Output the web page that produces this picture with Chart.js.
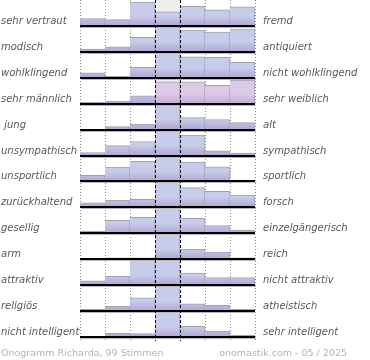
<!DOCTYPE html>
<html>
<head>
<meta charset="utf-8">
<script src="https://cdn.jsdelivr.net/npm/chart.js@4"></script>
<style>
  html, body { margin: 0; padding: 0; background: #fff; }
  #wrap { width: 370px; height: 360px; }
</style>
</head>
<body>
<div id="wrap"><canvas id="onogramm" width="370" height="360"></canvas></div>
<script>
// Answer columns of the scale (left pole ... neutral ... right pole)
const columns = ['1', '2', '3', '4', '5', '6', '7'];

const leftLabels = ['sehr vertraut', 'modisch', 'wohlklingend', 'sehr männlich', ' jung',
  'unsympathisch', 'unsportlich', 'zurückhaltend', 'gesellig', 'arm', 'attraktiv',
  'religiös', 'nicht intelligent'];
const rightLabels = ['fremd', 'antiquiert', 'nicht wohlklingend', 'sehr weiblich', 'alt',
  'sympathisch', 'sportlich', 'forsch', 'einzelgängerisch', 'reich', 'nicht attraktiv',
  'atheistisch', 'sehr intelligent'];

// share of votes (%) per column, one row per word pair
const shares = [
  [7, 6, 23, 13.5, 19, 15.5, 18.5],
  [2.6, 4.8, 14, 26, 21, 19, 22],
  [4.8, 1.4, 10, 29, 20.3, 19.8, 15],
  [1.3, 2.6, 7.7, 21.2, 21, 17.6, 22.8],
  [0, 2.9, 5.3, 64, 11.6, 9.6, 6.8],
  [2.9, 9.6, 13.5, 47, 19.8, 4.5, 2.4],
  [5.8, 13.8, 19.3, 27, 18.6, 14.2, 1.4],
  [4.5, 7, 7.7, 34, 19, 15.4, 11.9],
  [2.2, 12.5, 15.4, 45, 14.5, 7.4, 3.2],
  [0, 1.3, 1.3, 80, 9.6, 6.8, 1.4],
  [4.1, 8.4, 26, 35, 11.6, 7.4, 7.4],
  [1.6, 4.5, 12.8, 67, 7, 5.5, 1.9],
  [0, 3.6, 3.2, 76, 10.3, 5.8, 1.9]
];

const footerLeft = 'Onogramm Richarda, 99 Stimmen';
const footerRight = 'onomastik.com - 05 / 2025';

const rowSpan = 25;          // % that fills one row
const rowCount = shares.length;
const pinkRow = 3;           // "sehr weiblich" side is drawn pink

function rowBase(r) {
  return (rowCount - 1 - r) * rowSpan;
}

function barFill(r) {
  return function(ctx) {
    const chart = ctx.chart;
    const pink = r === pinkRow && ctx.dataIndex >= 3;
    const top = pink ? '#dcc9e6' : '#c6cce9';
    const bottom = pink ? '#c4aedb' : '#b2a4d4';
    if (!chart.chartArea) return top;
    const y0 = chart.scales.y.getPixelForValue(rowBase(r));
    const g = chart.ctx.createLinearGradient(0, y0, 0, y0 - 10);
    g.addColorStop(0, bottom);
    g.addColorStop(1, top);
    return g;
  };
}

const datasets = shares.map(function(row, r) {
  const base = rowBase(r);
  return {
    label: leftLabels[r] + ' / ' + rightLabels[r],
    data: row.map(v => v > 0 ? [base, base + Math.min(v, rowSpan)] : null),
    backgroundColor: barFill(r),
    borderColor: '#a2a2ae',
    borderWidth: { top: 1, right: 1, left: 0, bottom: 0 },
    borderSkipped: false,
    grouped: false,
    barPercentage: 1,
    categoryPercentage: 1
  };
});

// background, grid lines, base lines and texts
const decor = {
  id: 'decor',
  beforeDatasetsDraw(chart) {
    const c = chart.ctx, x = chart.scales.x, y = chart.scales.y;
    const colW = x.width / columns.length;
    const bottom = y.getPixelForValue(0) + 4;
    c.save();
    // neutral column background
    c.fillStyle = '#eeeeee';
    for (let r = 0; r < rowCount; r++) {
      const yb = y.getPixelForValue(rowBase(r));
      const yt = y.getPixelForValue(rowBase(r) + rowSpan);
      c.fillRect(x.left + 3 * colW, yt, colW, yb - yt);
    }
    // dotted column borders
    c.strokeStyle = '#8a8a8a';
    c.lineWidth = 1;
    c.setLineDash([1, 2]);
    for (let k = 0; k <= columns.length; k++) {
      if (k === 3 || k === 4) continue;
      const px = Math.round(x.left + k * colW) + 0.5;
      c.beginPath();
      c.moveTo(px, y.top);
      c.lineTo(px, bottom);
      c.stroke();
    }
    c.restore();
  },
  afterDatasetsDraw(chart) {
    const c = chart.ctx, x = chart.scales.x, y = chart.scales.y;
    const colW = x.width / columns.length;
    c.save();
    // base lines
    for (let r = 0; r < rowCount; r++) {
      const yb = Math.round(y.getPixelForValue(rowBase(r)));
      c.fillStyle = '#000';
      c.fillRect(x.left, yb - 1, x.width, 2);
      c.fillStyle = '#b8b8b8';
      c.fillRect(x.left + 1, yb + 1, x.width, 1);
    }
    // dashed neutral column borders
    c.strokeStyle = '#000';
    c.lineWidth = 1;
    c.setLineDash([3, 2]);
    const bottom = y.getPixelForValue(0) + 4;
    [3, 4].forEach(function(k) {
      const px = Math.round(x.left + k * colW) + 0.5;
      c.beginPath();
      c.moveTo(px, y.top);
      c.lineTo(px, bottom);
      c.stroke();
    });
    c.setLineDash([]);
    // word pairs
    c.font = 'italic 10px "DejaVu Sans"';
    c.fillStyle = '#585858';
    c.textBaseline = 'alphabetic';
    for (let r = 0; r < rowCount; r++) {
      const ty = y.getPixelForValue(rowBase(r)) - 2;
      c.textAlign = 'left';
      c.fillText(leftLabels[r], 1, ty);
      c.fillText(rightLabels[r], x.right + 8, ty);
    }
    // footer
    c.font = '9.5px "DejaVu Sans"';
    c.fillStyle = '#b4b4b4';
    c.textAlign = 'left';
    c.fillText(footerLeft, 1, 356);
    c.textAlign = 'right';
    c.fillText(footerRight, 347, 356);
    c.restore();
  }
};

const ctx = document.getElementById('onogramm').getContext('2d');
const onogramm = new Chart(ctx, {
  type: 'bar',
  data: { labels: columns, datasets: datasets },
  options: {
    responsive: false,
    animation: false,
    events: [],
    layout: { padding: { left: 80, right: 115, top: 0, bottom: 23 } },
    scales: {
      x: { display: false },
      y: { display: false, min: 0, max: rowCount * rowSpan }
    },
    plugins: {
      legend: { display: false },
      tooltip: { enabled: false }
    }
  },
  plugins: [decor]
});
</script>
</body>
</html>
